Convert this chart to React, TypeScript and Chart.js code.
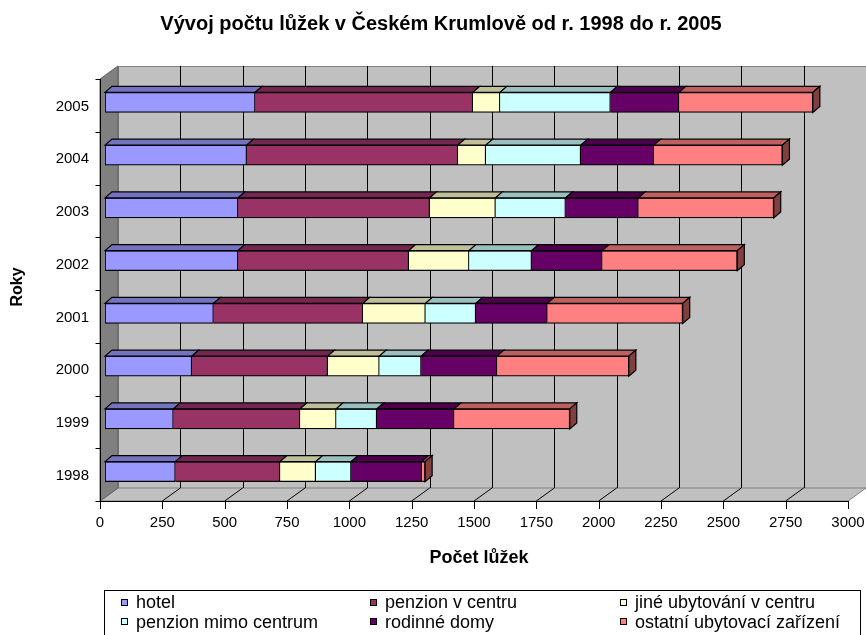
import React, { useEffect, useRef } from 'react';
import { Chart, registerables } from 'chart.js';

Chart.register(...registerables);

// ---- data ----
const years = ['1998', '1999', '2000', '2001', '2002', '2003', '2004', '2005'];
const hotel = [282, 274, 348, 435, 533, 533, 568, 602];
const penzionCentrum = [420, 508, 545, 599, 685, 769, 847, 873];
const jineCentrum = [143, 145, 207, 251, 242, 264, 112, 109];
const penzionMimo = [142, 163, 168, 202, 251, 281, 381, 443];
const rodinneDomy = [283, 310, 304, 287, 283, 292, 293, 275];
const ostatni = [14, 464, 529, 543, 542, 543, 516, 537];
const seriesNames = [
  'hotel',
  'penzion v centru',
  'jiné ubytování v centru',
  'penzion mimo centrum',
  'rodinné domy',
  'ostatní ubytovací zařízení',
];
const xMin = 0;
const xMax = 3000;
const xStep = 250;
const chartTitle = 'Vývoj počtu lůžek v Českém Krumlově od r. 1998 do r. 2005';
const xTitle = 'Počet lůžek';
const yTitle = 'Roky';

// ---- styles ----
const FONT = "Arial, 'Liberation Sans', Helvetica, sans-serif";
const frontColors = ['#9999FF', '#993366', '#FFFFCC', '#CCFFFF', '#660066', '#FF8080'];
const topColors = ['#7373BF', '#732650', '#BFBF99', '#99BFBF', '#4C004C', '#BF6060'];
const sideColors = ['#4D4D80', '#4D1A33', '#808066', '#668080', '#330033', '#804040'];
const BAR_DX = 7;
const BAR_DY = 6;
const FRONT_DX = -5;
const BACK_DX = 13;
const FRONT_DY = 3;
const DEPTH_DY = 13;

const series = [hotel, penzionCentrum, jineCentrum, penzionMimo, rodinneDomy, ostatni];

const crisp = (v: number) => Math.round(v) + 0.5;

const frame3d = {
  id: 'frame3d',
  beforeDatasetsDraw(chart: any) {
    const { ctx, chartArea: ca } = chart;
    const xs = chart.scales.x;
    const fX = (v: number) => xs.getPixelForValue(v) + FRONT_DX;
    const bX = (v: number) => xs.getPixelForValue(v) + BACK_DX;
    const fTop = ca.top + FRONT_DY;
    const fBot = ca.bottom + FRONT_DY;
    const bTop = fTop - DEPTH_DY;
    const bBot = fBot - DEPTH_DY;
    const vMin = xs.min;
    const vMax = xs.max;

    const poly = (pts: number[][], fill: string, stroke: string) => {
      ctx.beginPath();
      ctx.moveTo(pts[0][0], pts[0][1]);
      for (let i = 1; i < pts.length; i++) ctx.lineTo(pts[i][0], pts[i][1]);
      ctx.closePath();
      ctx.fillStyle = fill;
      ctx.fill();
      ctx.strokeStyle = stroke;
      ctx.stroke();
    };
    const line = (x1: number, y1: number, x2: number, y2: number, c: string) => {
      ctx.beginPath();
      ctx.moveTo(x1, y1);
      ctx.lineTo(x2, y2);
      ctx.strokeStyle = c;
      ctx.stroke();
    };

    ctx.save();
    ctx.lineWidth = 1;
    // back wall
    poly(
      [
        [crisp(bX(vMin)), crisp(bTop)],
        [crisp(bX(vMax)), crisp(bTop)],
        [crisp(bX(vMax)), crisp(bBot)],
        [crisp(bX(vMin)), crisp(bBot)],
      ],
      '#C0C0C0',
      '#808080'
    );
    // floor
    poly(
      [
        [fX(vMin), fBot],
        [bX(vMin), bBot],
        [bX(vMax), bBot],
        [fX(vMax), fBot],
      ],
      '#C0C0C0',
      '#808080'
    );
    // left wall
    poly(
      [
        [fX(vMin), fTop],
        [bX(vMin), bTop],
        [bX(vMin), bBot],
        [fX(vMin), fBot],
      ],
      '#808080',
      '#606060'
    );
    // gridlines on back wall and floor
    xs.ticks.forEach((t: any) => {
      if (t.value > vMin && t.value < vMax) {
        const bx = crisp(bX(t.value));
        line(bx, bTop, bx, bBot, '#000');
        line(fX(t.value), fBot, bX(t.value), bBot, '#000');
      }
    });
    // front x axis
    line(fX(vMin), crisp(fBot), fX(vMax), crisp(fBot), '#000');
    xs.ticks.forEach((t: any) => {
      const fx = crisp(fX(t.value));
      line(fx, fBot, fx, fBot + 8, '#000');
    });
    // front y axis
    const lx = crisp(fX(vMin));
    line(lx, fTop, lx, fBot, '#000');
    const n = chart.data.labels.length;
    for (let k = 0; k <= n; k++) {
      const yy = crisp(fTop + (k * (fBot - fTop)) / n);
      line(lx - 5, yy, lx, yy, '#000');
    }
    ctx.restore();
  },
  afterDatasetsDraw(chart: any) {
    const ctx = chart.ctx;
    const dsets = chart.data.datasets;
    ctx.save();
    ctx.lineWidth = 1.2;
    ctx.strokeStyle = '#000';
    ctx.lineJoin = 'miter';
    for (let di = 0; di < dsets.length; di++) {
      const meta = chart.getDatasetMeta(di);
      meta.data.forEach((el: any, i: number) => {
        const { x, y, base, height } = el.getProps(['x', 'y', 'base', 'height'], true);
        const l = Math.min(x, base);
        const r = Math.max(x, base);
        if (r - l < 0.01) return;
        const t = y - height / 2;
        const b = y + height / 2;
        ctx.beginPath();
        ctx.moveTo(l, t);
        ctx.lineTo(l + BAR_DX, t - BAR_DY);
        ctx.lineTo(r + BAR_DX, t - BAR_DY);
        ctx.lineTo(r, t);
        ctx.closePath();
        ctx.fillStyle = topColors[di];
        ctx.fill();
        ctx.stroke();
        let last = true;
        for (let dj = di + 1; dj < dsets.length; dj++) {
          if ((dsets[dj].data[i] as number) > 0) last = false;
        }
        if (last) {
          ctx.beginPath();
          ctx.moveTo(r, t);
          ctx.lineTo(r + BAR_DX, t - BAR_DY);
          ctx.lineTo(r + BAR_DX, b - BAR_DY);
          ctx.lineTo(r, b);
          ctx.closePath();
          ctx.fillStyle = sideColors[di];
          ctx.fill();
          ctx.stroke();
        }
      });
    }
    ctx.restore();
  },
};

export default function App() {
  const ref = useRef<HTMLCanvasElement>(null);

  useEffect(() => {
    if (!ref.current) return;
    const chart = new Chart(ref.current, {
      type: 'bar',
      data: {
        labels: years,
        datasets: series.map((s, i) => ({
          label: seriesNames[i],
          data: s,
          backgroundColor: frontColors[i],
          borderColor: '#000',
          borderWidth: 1.2,
          borderSkipped: i === 0 ? false : 'start',
          barThickness: 20,
        })),
      },
      options: {
        indexAxis: 'y',
        responsive: false,
        animation: false,
        events: [],
        layout: { padding: { left: 29, right: 13, top: 0, bottom: 66 } },
        plugins: {
          legend: { display: false },
          tooltip: { enabled: false },
          title: {
            display: true,
            text: chartTitle,
            color: '#000',
            font: { family: FONT, size: 20, weight: 'bold' },
            padding: { top: 12.5, bottom: 39.5 },
          },
        },
        scales: {
          x: {
            type: 'linear',
            stacked: true,
            min: xMin,
            max: xMax,
            grid: { display: false, drawTicks: false },
            border: { display: false },
            ticks: {
              stepSize: xStep,
              color: '#000',
              font: { family: FONT, size: 15 },
              padding: 15.5,
              labelOffset: FRONT_DX,
              maxRotation: 0,
              autoSkip: false,
              callback: (v: any) => String(v),
            },
            title: {
              display: true,
              text: xTitle,
              color: '#000',
              font: { family: FONT, size: 18, weight: 'bold' },
              padding: 0,
            },
            afterFit: (s: any) => {
              s.height = 71;
              s.paddingLeft = 0;
              s.paddingRight = 0;
            },
          },
          y: {
            type: 'category',
            stacked: true,
            reverse: true,
            grid: { display: false, drawTicks: false },
            border: { display: false },
            ticks: {
              color: '#000',
              font: { family: FONT, size: 15 },
              padding: 16,
              labelOffset: 4,
            },
            title: {
              display: true,
              text: yTitle,
              color: '#000',
              font: { family: FONT, size: 16, weight: 'bold' },
              padding: { top: -20.6, bottom: 0 },
            },
            afterFit: (s: any) => {
              s.width = 76;
              s.paddingTop = 0;
              s.paddingBottom = 0;
            },
          },
        },
      } as any,
      plugins: [frame3d],
    });
    return () => chart.destroy();
  }, []);

  const colX = [121, 370, 620];
  const rowY = [598.5, 618];

  return (
    <div
      style={{
        position: 'absolute',
        left: 0,
        top: 0,
        width: 866,
        height: 635,
        overflow: 'hidden',
        background: '#fff',
        fontFamily: FONT,
      }}
    >
      <canvas ref={ref} width={866} height={635} style={{ position: 'absolute', left: 0, top: 0 }} />
      <div
        style={{
          position: 'absolute',
          left: 104,
          top: 590,
          width: 757,
          height: 60,
          border: '1px solid #000',
          boxSizing: 'border-box',
        }}
      />
      {seriesNames.map((name, i) => {
        const c = i % 3;
        const r = Math.floor(i / 3);
        return (
          <React.Fragment key={name}>
            <div
              style={{
                position: 'absolute',
                left: colX[c],
                top: rowY[r],
                width: 7,
                height: 7,
                border: '1px solid #000',
                boxSizing: 'border-box',
                background: frontColors[i],
              }}
            />
            <span
              style={{
                position: 'absolute',
                left: colX[c] + 15,
                top: rowY[r] - 6.3,
                fontSize: 18,
                lineHeight: '20px',
                whiteSpace: 'nowrap',
                color: '#000',
              }}
            >
              {name}
            </span>
          </React.Fragment>
        );
      })}
    </div>
  );
}
